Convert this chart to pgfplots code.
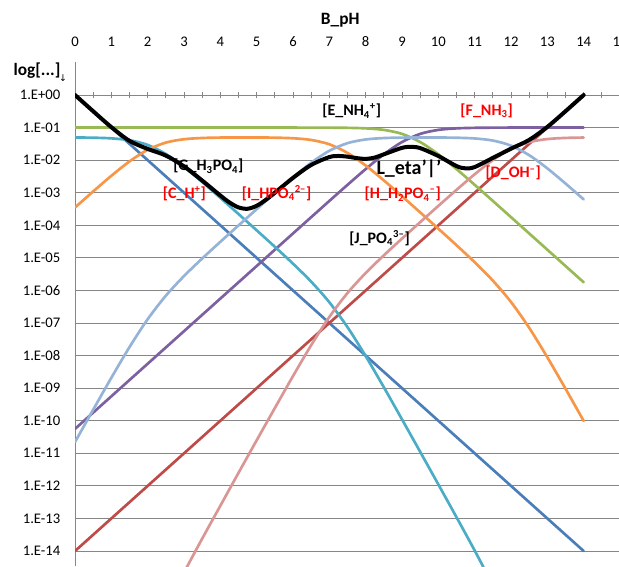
\documentclass[border=0pt]{standalone}
\usepackage{pgfplots}
\pgfplotsset{compat=1.18}
\usepackage{fontspec}
\setmainfont{Carlito}
\newfontfamily\djv{DejaVu Sans}
\definecolor{gridgray}{HTML}{868686}
\definecolor{cH}{HTML}{4A7EBB}
\definecolor{cOH}{HTML}{BE4B48}
\definecolor{cNHf}{HTML}{98B954}
\definecolor{cNHt}{HTML}{7D60A0}
\definecolor{cHtP}{HTML}{4BACC6}
\definecolor{cHdP}{HTML}{F79646}
\definecolor{cHP}{HTML}{95B3D7}
\definecolor{cP}{HTML}{D99694}
\definecolor{lblred}{HTML}{FF0000}
\begin{document}
\begin{tikzpicture}
\begin{axis}[
  x=27.25pt, y=24.43pt,
  xmin=0, xmax=15, ymin=-14.46, ymax=1,
  axis x line*=middle, axis y line*=left,
  hide obscured x ticks=false, hide obscured y ticks=false,
  axis line style={draw=gridgray, line width=0.75pt},
  xtick={0,1,...,15}, minor x tick num=1,
  xticklabels={0,1,2,3,4,5,6,7,8,9,10,11,12,13,14,15},
  tick align=center, major tick length=5pt, minor tick length=5pt,
  x tick style={gridgray, line width=0.75pt},
  minor x tick style={gridgray, line width=0.75pt},
  y tick style={draw=none},
  ytick={-14,-13,...,0},
  yticklabels={1.E-14,1.E-13,1.E-12,1.E-11,1.E-10,1.E-09,1.E-08,1.E-07,1.E-06,1.E-05,1.E-04,1.E-03,1.E-02,1.E-01,1.E+00},
  ymajorgrids, xmajorgrids=false,
  grid style={gridgray, line width=0.75pt},
  tick label style={font=\fontsize{11}{13}\selectfont, text=black},
  xticklabel style={anchor=center, yshift=42.5pt},
  yticklabel style={xshift=-5pt},
  every axis plot/.append style={line width=2pt, line join=round, line cap=round},
]
% C_H+
\addplot[cH, no marks] coordinates {(0,0) (14,-14)};
% D_OH-
\addplot[cOH, no marks] coordinates {(0,-14) (14,0)};
% E_NH4+
\addplot[cNHf, no marks, smooth] coordinates {
(0,-1.000) (5,-1.000) (5.5,-1.000) (6,-1.000) (6.5,-1.001) (7,-1.002) (7.5,-1.008) (8,-1.024) (8.5,-1.071) (9,-1.194) (9.5,-1.444) (10,-1.821) (10.5,-2.274) (11,-2.758) (11.5,-3.252) (12,-3.751) (12.5,-4.250) (13,-4.750) (13.5,-5.250) (14,-5.750)};
% F_NH3
\addplot[cNHt, no marks, smooth] coordinates {
(0,-10.25) (1,-9.25) (2,-8.25) (3,-7.25) (4,-6.25) (5,-5.25) (5.5,-4.750) (6,-4.250) (6.5,-3.751) (7,-3.252) (7.5,-2.758) (8,-2.274) (8.5,-1.821) (9,-1.444) (9.5,-1.194) (10,-1.071) (10.5,-1.024) (11,-1.008) (11.5,-1.002) (12,-1.000) (13,-1.000) (14,-1.000)};
% G_H3PO4
\addplot[cHtP, no marks, smooth] coordinates {
(0,-1.304) (0.5,-1.311) (1,-1.331) (1.5,-1.389) (2,-1.533) (2.5,-1.811) (3,-2.208) (3.5,-2.670) (4,-3.157) (4.5,-3.654) (5,-4.154) (5.5,-4.660) (6,-5.178) (6.5,-5.730) (7,-6.363) (7.5,-7.128) (8,-8.015) (8.5,-8.972) (9,-9.958) (9.5,-10.954) (10,-11.955) (10.5,-12.962) (11,-13.984) (11.5,-15.048)};
% H_H2PO4-
\addplot[cHdP, no marks, smooth] coordinates {
(0,-3.454) (0.5,-2.961) (1,-2.481) (1.5,-2.039) (2,-1.683) (2.5,-1.461) (3,-1.358) (3.5,-1.320) (4,-1.307) (4.5,-1.304) (5,-1.304) (5.5,-1.310) (6,-1.328) (6.5,-1.380) (7,-1.513) (7.5,-1.778) (8,-2.165) (8.5,-2.622) (9,-3.108) (9.5,-3.604) (10,-4.105) (10.5,-4.612) (11,-5.134) (11.5,-5.698) (12,-6.355) (12.5,-7.147) (13,-8.053) (13.5,-9.018) (14,-10.006)};
% I_HPO4 2-
\addplot[cHP, no marks, smooth] coordinates {
(0,-10.654) (0.5,-9.661) (1,-8.681) (1.5,-7.739) (2,-6.883) (2.5,-6.161) (3,-5.558) (3.5,-5.020) (4,-4.507) (4.5,-4.004) (5,-3.504) (5.5,-3.010) (6,-2.528) (6.5,-2.080) (7,-1.713) (7.5,-1.478) (8,-1.365) (8.5,-1.322) (9,-1.308) (9.5,-1.304) (10,-1.305) (10.5,-1.312) (11,-1.334) (11.5,-1.398) (12,-1.555) (12.5,-1.847) (13,-2.253) (13.5,-2.718) (14,-3.206)};
% J_PO4 3-
\addplot[cP, no marks, smooth] coordinates {
(2.5,-15.76) (3,-14.66) (3.5,-13.62) (4,-12.61) (4.5,-11.60) (5,-10.60) (5.5,-9.61) (6,-8.628) (6.5,-7.680) (7,-6.813) (7.5,-6.078) (8,-5.465) (8.5,-4.922) (9,-4.408) (9.5,-3.904) (10,-3.405) (10.5,-2.912) (11,-2.434) (11.5,-1.998) (12,-1.655) (12.5,-1.447) (13,-1.353) (13.5,-1.318) (14,-1.306)};
% L_eta
\addplot[black, no marks, smooth, line width=3pt] coordinates {
(0,0.000) (0.5,-0.4985) (1,-0.987) (1.5,-1.408) (2,-1.655) (2.5,-1.859) (3,-2.191) (3.5,-2.625) (4,-3.086) (4.25,-3.297) (4.5,-3.451) (4.75,-3.492) (5,-3.401) (5.25,-3.219) (5.5,-3.000) (6,-2.544) (6.5,-2.148) (7,-1.905) (7.25,-1.872) (7.5,-1.893) (7.75,-1.937) (8,-1.961) (8.25,-1.920) (8.5,-1.821) (9,-1.622) (9.25,-1.593) (9.5,-1.630) (10,-1.873) (10.5,-2.182) (10.75,-2.252) (11,-2.212) (11.5,-1.931) (12,-1.648) (12.5,-1.378) (13,-0.979) (13.5,-0.498) (14,0.000)};
% labels
\begin{scope}[font=\fontsize{12}{14}\selectfont\bfseries]
\node[black] at (axis cs:7.616,-0.49) {[E\_NH\textsubscript{4}\textsuperscript{+}]};
\node[lblred] at (axis cs:11.33,-0.49) {[F\_NH\textsubscript{3}]};
\node[black] at (axis cs:3.67,-2.18) {[G\_H\textsubscript{3}PO\textsubscript{4}]};
\node[lblred] at (axis cs:3.01,-3.02) {[C\_H\textsuperscript{+}]};
\node[lblred] at (axis cs:5.55,-3.02) {[I\_HPO\textsubscript{4}\textsuperscript{2--}]};
\node[lblred] at (axis cs:9.02,-3.04) {[H\_H\textsubscript{2}PO\textsubscript{4}\textsuperscript{--}]};
\node[lblred] at (axis cs:12.06,-2.40) {[D\_OH\textsuperscript{--}]};
\node[black] at (axis cs:8.38,-4.40) {[J\_PO\textsubscript{4}\textsuperscript{3--}]};
\end{scope}
\node[black, font=\fontsize{15}{17}\selectfont\bfseries] at (axis cs:9.19,-2.28) {L\_eta'|'};
\coordinate (bbl) at (axis cs:-2.0642,-14.461);
\coordinate (btr) at (axis cs:14.972,2.9167);
\coordinate (xlab) at (axis cs:7.3,2.30);
\coordinate (ylab) at (axis cs:-1.046,0.737);
\coordinate (yarr) at (axis cs:-0.33,0.52);
\end{axis}
\node[font=\fontsize{13}{15}\selectfont\bfseries] at (xlab) {B\_pH};
\node[font=\fontsize{13}{15}\selectfont\bfseries] at (ylab) {log[...]};
\node[font=\djv\fontsize{7}{8}\selectfont] at (yarr) {↓};
\pgfresetboundingbox
\path[use as bounding box] (bbl) rectangle (btr);
\end{tikzpicture}
\end{document}
